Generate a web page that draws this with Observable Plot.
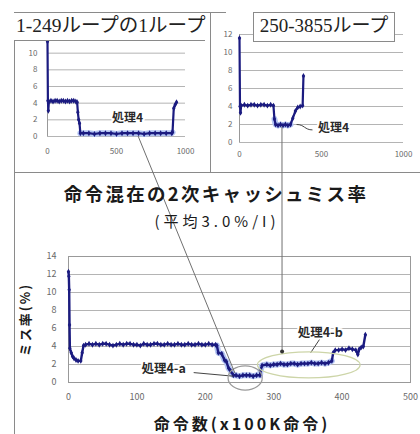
<!DOCTYPE html>
<html>
<head>
<meta charset="utf-8">
<script src="https://cdn.jsdelivr.net/npm/d3@7"></script>
<script src="https://cdn.jsdelivr.net/npm/@observablehq/plot@0.6"></script>
<style>
  body { margin: 0; background: #fff; }
  #fig { position: relative; width: 420px; height: 434px; overflow: hidden; background: #fff;
         font-family: "Noto Sans CJK JP", "Noto Sans", sans-serif; color: #222; }
  #fig > * { position: absolute; }
  .rule { background: #8a8a8a; }
  .tbox { background: #fff; box-sizing: border-box; white-space: nowrap; color: #222;
          font-family: "Liberation Serif", "Noto Sans CJK JP", serif; line-height: 26px; }
  .title { white-space: nowrap; text-align: center; font-weight: bold; color: #1a1a1a; }
</style>
</head>
<body>
<div id="fig">
  <div id="plots" style="left:0;top:0;width:420px;height:434px;"></div>
  <div class="rule" style="left:14px;top:12px;width:1px;height:422px;"></div>
  <div class="rule" style="left:14px;top:12px;width:212px;height:1px;"></div>
  <div class="rule" style="left:210px;top:12px;width:1px;height:160px;"></div>
  <div class="rule" style="left:14px;top:172px;width:406px;height:1px;"></div>
  <div class="tbox" style="left:14px;top:12px;width:191px;height:29px;border-top:1px solid #8a8a8a;border-bottom:1px solid #8a8a8a;padding-left:2px;font-size:19.5px;">1-249ループの1ループ</div>
  <div class="tbox" style="left:253px;top:12px;width:142px;height:30px;border:1px solid #8a8a8a;text-align:center;font-size:19px;">250-3855ループ</div>
  <svg id="links" width="420" height="434" style="left:0;top:0;"></svg>
  <div class="title" style="left:0;top:182px;width:432px;font-size:18.5px;letter-spacing:2.3px;line-height:22px;">命令混在の2次キャッシュミス率</div>
  <div class="title" style="left:0;top:211px;width:434px;font-size:15px;letter-spacing:4px;line-height:20px;font-weight:normal;">(平均3.0%/I)</div>
  <div class="title" style="left:0;top:413px;width:484px;font-size:16px;letter-spacing:3px;line-height:20px;">命令数(x100K命令)</div>
</div>
<script>
// ---- 1-249 loops, one loop (x: position in loop, y: miss rate %) ----
const loopAX = [0, 3, 6, 10, 25, 40, 55, 70, 85, 100, 115, 130, 145, 160, 175, 190, 205,
  215, 220, 226, 232, 238,
  260, 300, 340, 380, 420, 460, 500, 540, 580, 620, 660, 700, 740, 780, 820, 860, 900,
  906, 915, 925, 935];
const loopAY = [11.4, 4.3, 3.1, 4.2, 4.3, 4.2, 4.3, 4.3, 4.2, 4.3, 4.3, 4.2, 4.3, 4.2, 4.3, 4.3, 4.2,
  4.1, 2.9, 2.0, 1.6, 0.4,
  0.4, 0.4, 0.3, 0.4, 0.4, 0.4, 0.3, 0.4, 0.4, 0.4, 0.4, 0.3, 0.4, 0.4, 0.4, 0.4, 0.4,
  0.5, 3.4, 3.8, 4.1];

// ---- 250-3855 loops ----
const loopBX = [0, 3, 6, 10, 30, 50, 70, 90, 110, 130, 150, 170, 190,
  207, 213, 220, 235, 250, 265, 280, 295, 311, 325, 341, 355, 370, 385, 390];
const loopBY = [11.6, 4.0, 3.3, 4.1, 4.2, 4.1, 4.2, 4.2, 4.1, 4.2, 4.2, 4.1, 4.2,
  4.1, 2.6, 2.0, 1.9, 2.0, 1.9, 2.0, 1.9, 2.0, 2.7, 3.5, 3.9, 4.0, 4.1, 7.4];

// ---- mixed-instruction L2 miss rate (x: instructions ×100K) ----
const mixX = [0, 0.5, 1, 1.5, 2, 4, 6, 8, 11, 14, 18, 20, 22,
  25, 30, 35, 40, 45, 50, 55, 60, 65, 70, 75, 80, 85, 90, 95, 100, 105, 110, 115, 120,
  125, 130, 135, 140, 145, 150, 155, 160, 165, 170, 175, 180, 185, 190, 195, 200, 205, 210, 215,
  217, 219, 224, 228, 231, 234, 237, 241,
  245, 250, 255, 260, 265, 270, 275, 280, 281, 283,
  290, 295, 300, 305, 310, 315, 320, 325, 330, 335, 340, 345, 350, 355, 360, 365, 370, 375, 380,
  385, 387, 390, 395, 400, 405, 410, 415, 420, 423, 425, 428, 431, 434];
const mixY = [12.3, 11.8, 10.3, 6.4, 3.8, 3.3, 2.9, 2.7, 2.5, 2.4, 2.4, 3.3, 4.1,
  4.2, 4.3, 4.2, 4.3, 4.2, 4.3, 4.3, 4.2, 4.1, 4.2, 4.3, 4.2, 4.3, 4.3, 4.2, 4.2, 4.1, 4.3, 4.2, 4.2,
  4.3, 4.3, 4.2, 4.2, 4.3, 4.2, 4.2, 4.3, 4.2, 4.2, 4.3, 4.2, 4.2, 4.3, 4.2, 4.2, 4.3, 4.2, 4.2,
  4.1, 3.3, 3.2, 2.5, 2.3, 1.6, 1.3, 0.8,
  0.8, 0.7, 0.8, 0.8, 0.8, 0.7, 0.8, 0.8, 1.4, 1.9,
  2.0, 1.9, 2.0, 2.0, 2.1, 2.0, 2.0, 2.1, 2.1, 2.0, 2.1, 2.1, 2.1, 2.2, 2.1, 2.1, 2.2, 2.1, 2.2,
  2.4, 3.3, 3.6, 3.6, 3.7, 3.6, 3.8, 3.7, 3.6, 3.1, 3.7, 3.9, 4.0, 5.3];

// ---- tick values ----
const panelXTicks = [0, 500, 1000];
const panelAYTicks = [0, 2, 4, 6, 8, 10];
const panelBYTicks = [0, 2, 4, 6, 8, 10, 12];
const mainXTicks = [0, 100, 200, 300, 400, 500];
const mainYTicks = [0, 2, 4, 6, 8, 10, 12, 14];

// ---- callouts (data units of each panel) ----
const noteA = [{text: "処理4", x: 580, y: 2.2}];
const noteB = [{text: "処理4", x: 573, y: 1.55}];
const noteBLeader = [{x1: 348, y1: 2.0, x2: 445, y2: 1.4}];
const mainNotes = [{text: "処理4-a", x: 139, y: 1.55}, {text: "処理4-b", x: 368, y: 5.55}];
const mainLeaders = [{x1: 183, y1: 1.1, x2: 241, y2: 0.7}, {x1: 368, y1: 4.9, x2: 354, y2: 3.3}];
const loopARange = [238, 906], loopBRange = [213, 311], mixRange = [217, 386];

const NAVY = "#1b1b80", HALO = "#b3c4f2", GRID = "#b4b4b4", TICK = "#6a6a6a";
const plain = d => String(d);
const rows = (xs, ys) => xs.map((x, i) => ({x, y: ys[i]}));
const loopA = rows(loopAX, loopAY), loopB = rows(loopBX, loopBY), mix = rows(mixX, mixY);
const within = (data, [a, b]) => data.filter(d => d.x >= a && d.x <= b);

const noteStyle = {x: "x", y: "y", text: "text", fill: "#2a2a2a", stroke: "white", strokeWidth: 4,
  paintOrder: "stroke", fontWeight: "bold"};

function panel(data, range, yTicks, notes, extra, opts) {
  return Plot.plot({
    width: opts.width, height: opts.height,
    marginLeft: opts.marginLeft, marginRight: opts.marginRight,
    marginTop: opts.marginTop, marginBottom: opts.marginBottom,
    style: {background: "transparent", overflow: "visible", fontFamily: "Noto Sans CJK JP, sans-serif"},
    x: {domain: [0, 1000]},
    y: {domain: [0, 12]},
    marks: [
      Plot.gridY(yTicks, {stroke: GRID, strokeOpacity: 1}),
      Plot.ruleX([0], {stroke: "#999"}),
      Plot.axisX(panelXTicks, {tickSize: 0, tickPadding: opts.xPad, fontSize: 8, fill: TICK, label: null, tickFormat: plain}),
      Plot.axisY(yTicks, {tickSize: 0, tickPadding: opts.yPad, fontSize: 8, fill: TICK, label: null, tickFormat: plain}),
      Plot.line(within(data, range), {x: "x", y: "y", stroke: HALO, strokeWidth: 6}),
      Plot.line(data, {x: "x", y: "y", stroke: NAVY, strokeWidth: 2.2}),
      Plot.dot(data, {x: "x", y: "y", symbol: "diamond", r: 1.8, fill: NAVY}),
      ...extra,
      Plot.text(notes, {...noteStyle, fontSize: 12})
    ]
  });
}

const boxA = {left: 14, top: 30}, boxB = {left: 210, top: 24}, boxM = {left: 0, top: 240};

const plotA = panel(loopA, loopARange, panelAYTicks, noteA, [],
  {width: 196, height: 140, marginLeft: 33, marginRight: 25, marginTop: 6, marginBottom: 34, xPad: 12, yPad: 10});
const plotB = panel(loopB, loopBRange, panelBYTicks, noteB,
  [Plot.link(noteBLeader, {x1: "x1", y1: "y1", x2: "x2", y2: "y2", stroke: "#444", curve: "bump-x"})],
  {width: 210, height: 146, marginLeft: 29, marginRight: 17, marginTop: 10, marginBottom: 28, xPad: 9, yPad: 7});

const plotM = Plot.plot({
  width: 420, height: 170,
  marginLeft: 68, marginRight: 10, marginTop: 16, marginBottom: 28,
  style: {background: "transparent", overflow: "visible", fontFamily: "Noto Sans CJK JP, sans-serif"},
  x: {domain: [0, 500]},
  y: {domain: [0, 14]},
  marks: [
    Plot.gridY(mainYTicks, {stroke: GRID, strokeOpacity: 1}),
    Plot.frame({stroke: "#999"}),
    Plot.axisX(mainXTicks, {tickSize: 0, tickPadding: 11, fontSize: 9, fill: TICK, label: null, tickFormat: plain}),
    Plot.axisY(mainYTicks, {tickSize: 0, tickPadding: 12, fontSize: 9, fill: TICK, label: null, tickFormat: plain}),
    Plot.axisY([], {tickSize: 0, label: "ミス率(%)", labelAnchor: "center", labelArrow: "none",
      labelOffset: 48, fontSize: 13, fontWeight: "bold", fill: "#1a1a1a"}),
    Plot.line(within(mix, mixRange), {x: "x", y: "y", stroke: HALO, strokeWidth: 6}),
    Plot.line(mix, {x: "x", y: "y", stroke: NAVY, strokeWidth: 2.4}),
    Plot.dot(mix, {x: "x", y: "y", symbol: "diamond", r: 1.8, fill: NAVY}),
    Plot.link(mainLeaders, {x1: "x1", y1: "y1", x2: "x2", y2: "y2", stroke: "#444"}),
    Plot.text(mainNotes, {...noteStyle, fontSize: 12.5})
  ]
});

const holder = document.getElementById("plots");
for (const [p, b] of [[plotA, boxA], [plotB, boxB], [plotM, boxM]]) {
  p.style.position = "absolute";
  p.style.left = b.left + "px";
  p.style.top = b.top + "px";
  holder.appendChild(p);
}
d3.select(plotM).selectAll('g[aria-label="y-axis label"] text').attr("letter-spacing", "2px");

// outline ellipses around the two phases in the main chart (data units)
const mainRings = [
  {cx: 259, cy: 0.45, rx: 25, ry: 1.35, stroke: "#9a9a9a"},
  {cx: 352, cy: 1.9, rx: 75, ry: 1.45, stroke: "#cdd5a8"}
];
const sx = plotM.scale("x"), sy = plotM.scale("y");
d3.select(plotM).selectAll("ellipse.ring").data(mainRings).join("ellipse")
  .attr("cx", d => sx.apply(d.cx)).attr("cy", d => sy.apply(d.cy))
  .attr("rx", d => sx.apply(d.cx + d.rx) - sx.apply(d.cx))
  .attr("ry", d => sy.apply(d.cy) - sy.apply(d.cy + d.ry))
  .attr("fill", "none").attr("stroke", d => d.stroke).attr("stroke-width", 1.2);

// connector lines from the loop panels down to the matching phase of the main chart
const at = (p, b, x, y) => [b.left + p.scale("x").apply(x), b.top + p.scale("y").apply(y)];
const connectors = [
  {a: at(plotA, boxA, 660, 0), b: at(plotM, boxM, 244, 1.0), dot: false},
  {a: at(plotB, boxB, 262, 1.7), b: at(plotM, boxM, 313, 3.4), dot: true}
];
const links = d3.select("#links");
links.selectAll("line").data(connectors).join("line")
  .attr("x1", d => d.a[0]).attr("y1", d => d.a[1])
  .attr("x2", d => d.b[0]).attr("y2", d => d.b[1])
  .attr("stroke", "#707070").attr("stroke-width", 1);
links.selectAll("circle").data(connectors.filter(d => d.dot)).join("circle")
  .attr("cx", d => d.b[0]).attr("cy", d => d.b[1]).attr("r", 2).attr("fill", "#333");
</script>
</body>
</html>
